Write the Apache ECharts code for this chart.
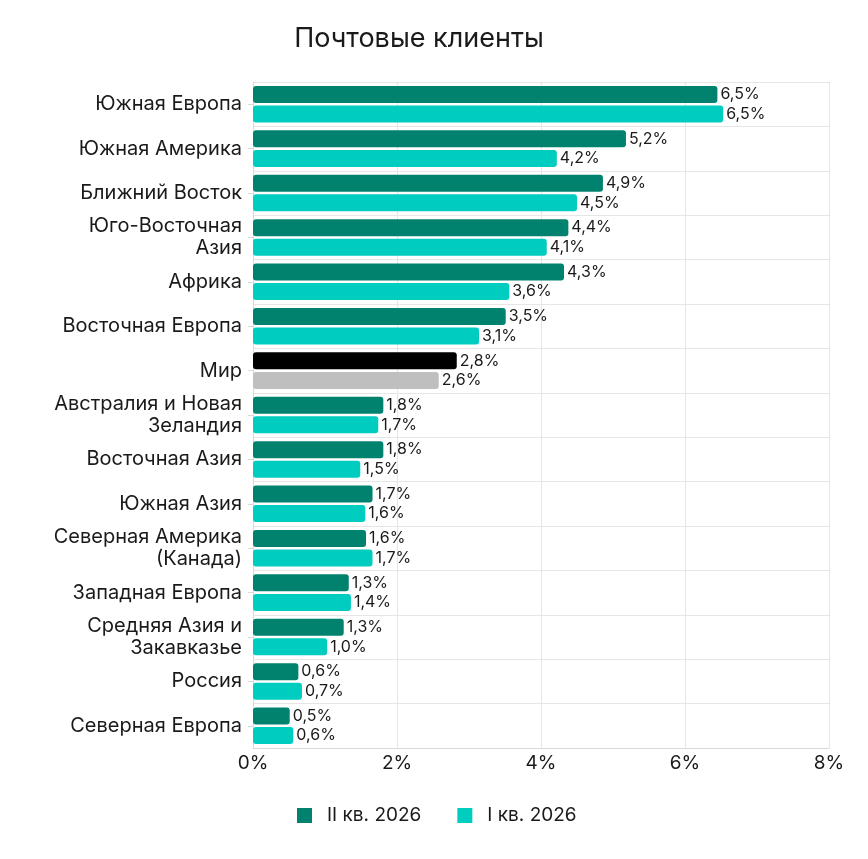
<!DOCTYPE html>
<html>
<head>
<meta charset="utf-8">
<script src="https://cdn.jsdelivr.net/npm/echarts@6/dist/echarts.min.js"></script>
<style>
  html, body { margin: 0; padding: 0; background: #fff; }
  #main { width: 868px; height: 859px; }
</style>
</head>
<body>
<div id="main"></div>
<script>
var categories = ['Южная Европа', 'Южная Америка', 'Ближний Восток', 'Юго-Восточная\nАзия', 'Африка',
    'Восточная Европа', 'Мир', 'Австралия и Новая\nЗеландия', 'Восточная Азия', 'Южная Азия',
    'Северная Америка\n(Канада)', 'Западная Европа', 'Средняя Азия и\nЗакавказье', 'Россия', 'Северная Европа'];
var q2Values = [6.45, 5.18, 4.86, 4.38, 4.32, 3.51, 2.83, 1.81, 1.81, 1.66, 1.57, 1.33, 1.26, 0.63, 0.51];
var q1Values = [6.53, 4.22, 4.50, 4.08, 3.56, 3.14, 2.58, 1.74, 1.49, 1.56, 1.66, 1.36, 1.03, 0.68, 0.56];
var seriesNames = ['II кв. 2026', 'I кв. 2026'];
var xTicks = [0, 2, 4, 6, 8];

var fontName = 'Inter';
var worldName = 'Мир';

function fmt(v){
    return v.toFixed(1).replace('.', ',') + '%';
}

function makeData(values, worldColor){
    return values.map(function(v, i){
        if (categories[i] === worldName) {
            return { value: v, itemStyle: { color: worldColor } };
        }
        return v;
    });
}

function run(){
    var myChart = echarts.init(document.getElementById('main'));

    var labelOpt = {
        show: true,
        position: 'right',
        distance: 3,
        color: '#1a1a1a',
        fontSize: 16,
        fontFamily: fontName,
        formatter: function(p){ return fmt(p.value); }
    };

    var option = {
        backgroundColor: '#fff',
        animation: false,
        title: {
            text: 'Почтовые клиенты',
            left: 414,
            textAlign: 'center',
            top: 20,
            textStyle: { fontSize: 27, fontWeight: 'normal', color: '#1a1a1a', fontFamily: fontName }
        },
        legend: {
            data: seriesNames,
            bottom: 29,
            left: 292,
            itemWidth: 15,
            itemHeight: 15,
            itemGap: 36,
            icon: 'rect',
            textStyle: { fontSize: 19, color: '#1a1a1a', fontFamily: fontName, padding: [0, 0, 0, 10] }
        },
        grid: { left: 253, right: 39, top: 82, bottom: 111 },
        xAxis: {
            type: 'value',
            min: xTicks[0],
            max: xTicks[xTicks.length - 1],
            interval: 2,
            axisLine: { show: true, lineStyle: { color: '#d9d9d9', width: 1 } },
            axisTick: { show: false },
            splitLine: { show: true, lineStyle: { color: '#e6e6e6' } },
            axisLabel: {
                margin: 6,
                fontSize: 19,
                color: '#1a1a1a',
                fontFamily: fontName,
                formatter: function(v){ return v + '%'; }
            }
        },
        yAxis: {
            type: 'category',
            inverse: true,
            data: categories,
            axisLine: { show: true, lineStyle: { color: '#d9d9d9' } },
            axisTick: { show: true, alignWithLabel: true, length: 5, lineStyle: { color: '#d9d9d9' } },
            splitLine: { show: true, lineStyle: { color: '#e6e6e6' } },
            axisLabel: {
                margin: 11,
                fontSize: 20,
                lineHeight: 22,
                color: '#1a1a1a',
                fontFamily: fontName
            }
        },
        series: [
            {
                name: seriesNames[0],
                type: 'bar',
                data: makeData(q2Values, '#000000'),
                barWidth: 17,
                barGap: '15%',
                itemStyle: { color: '#00826e', borderRadius: 3 },
                label: labelOpt
            },
            {
                name: seriesNames[1],
                type: 'bar',
                data: makeData(q1Values, '#bfbfbf'),
                barWidth: 17,
                itemStyle: { color: '#00ccbf', borderRadius: 3 },
                label: labelOpt
            }
        ]
    };

    myChart.setOption(option);
}

run();
</script>
</body>
</html>
